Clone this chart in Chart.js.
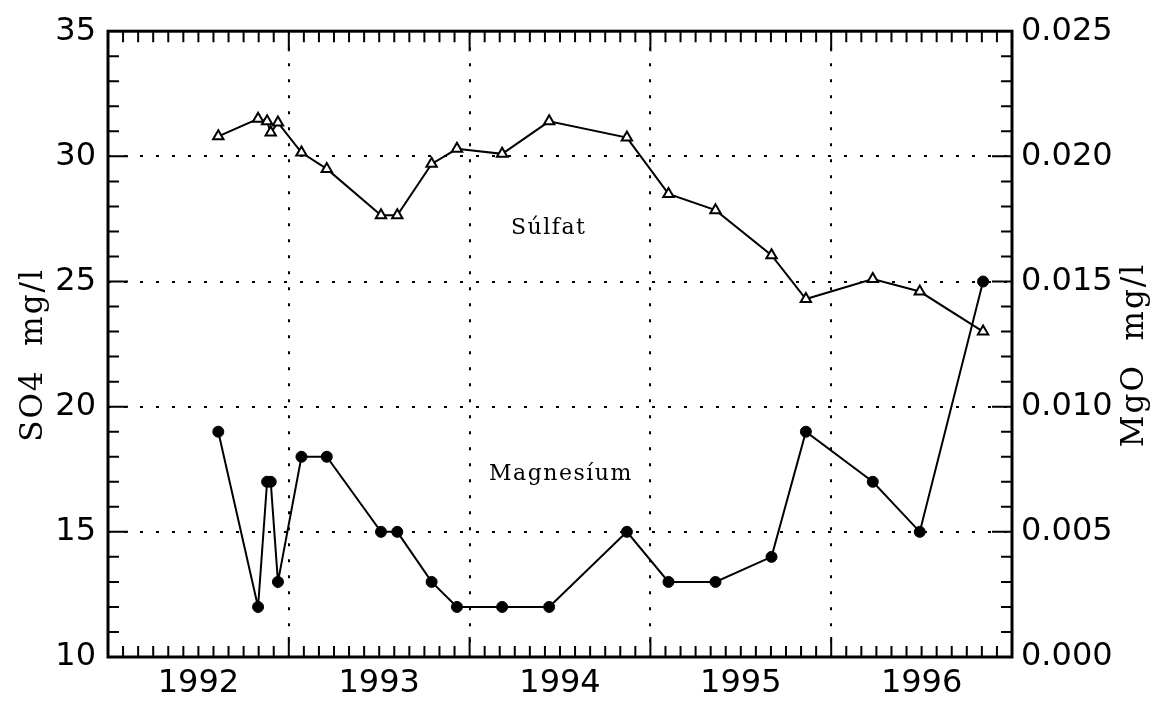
<!DOCTYPE html>
<html>
<head>
<meta charset="utf-8">
<script src="https://cdn.jsdelivr.net/npm/chart.js@4.4.0/dist/chart.umd.min.js"></script>
<style>
  html, body { margin: 0; padding: 0; background: #fff; }
  canvas { display: block; }
</style>
</head>
<body>
<canvas id="grafic" width="1166" height="703"></canvas>
<script>
// dates de mostreig en anys decimals
const dates = [1992.61, 1992.83, 1992.88, 1992.90, 1992.94, 1993.07, 1993.21, 1993.51, 1993.60, 1993.79, 1993.93,
               1994.18, 1994.44, 1994.87, 1995.10, 1995.36, 1995.67, 1995.86, 1996.23, 1996.49, 1996.84];
// SO4 mg/l
const sulfat = [30.8, 31.5, 31.4, 30.95, 31.35, 30.15, 29.5, 27.65, 27.65, 29.7, 30.3,
                30.1, 31.4, 30.75, 28.5, 27.85, 26.05, 24.3, 25.1, 24.6, 23.0];
// MgO mg/l
const magnesi = [0.009, 0.002, 0.007, 0.007, 0.003, 0.008, 0.008, 0.005, 0.005, 0.003, 0.002,
                 0.002, 0.002, 0.005, 0.003, 0.003, 0.004, 0.009, 0.007, 0.005, 0.015];

const anys = [1992, 1993, 1994, 1995, 1996, 1997];
const ticsSO4 = [10, 15, 20, 25, 30, 35];
const ticsMgO = [0, 0.005, 0.010, 0.015, 0.020, 0.025];

Chart.defaults.font.family = 'DejaVu Sans';
Chart.defaults.color = '#000';

// marc, marques petites i textos
const marc = {
    id: 'marc',
    beforeDatasetsDraw(chart) {
        const { ctx, chartArea: a, scales } = chart;
        ctx.save();
        ctx.strokeStyle = '#000';
        ctx.lineWidth = 2;
        ctx.beginPath();
        // un tic per mes
        for (let i = 1; i < 60; i++) {
            const px = scales.x.getPixelForValue(anys[0] + i / 12);
            const l = i % 12 === 0 ? 20 : 11;
            ctx.moveTo(px, a.bottom); ctx.lineTo(px, a.bottom - l);
            ctx.moveTo(px, a.top); ctx.lineTo(px, a.top + l);
        }
        // un tic per unitat de SO4
        for (let v = 11; v < 35; v++) {
            const py = scales.y.getPixelForValue(v);
            const l = v % 5 === 0 ? 20 : 11;
            ctx.moveTo(a.left, py); ctx.lineTo(a.left + l, py);
            ctx.moveTo(a.right, py); ctx.lineTo(a.right - l, py);
        }
        ctx.stroke();
        ctx.lineWidth = 3;
        ctx.strokeRect(a.left, a.top, a.right - a.left, a.bottom - a.top);

        ctx.fillStyle = '#000';
        ctx.font = '22px "DejaVu Serif"';
        ctx.letterSpacing = '1.5px';
        ctx.textAlign = 'left';
        ctx.textBaseline = 'alphabetic';
        ctx.fillText('Súlfat', 511, 234);
        ctx.fillText('Magnesíum', 489, 480);

        ctx.font = '31px "DejaVu Serif"';
        ctx.letterSpacing = '2px';
        ctx.textAlign = 'center';
        ctx.textBaseline = 'middle';
        ctx.translate(34, 355);
        ctx.rotate(-Math.PI / 2);
        ctx.fillText('SO4  mg/l', 0, 0);
        ctx.rotate(Math.PI / 2);
        ctx.translate(1101, 0);
        ctx.rotate(-Math.PI / 2);
        ctx.fillText('MgO  mg/l', 0, 0);
        ctx.restore();
    }
};

const vora = (ctx) => (ctx.tick && (ctx.tick.value === 10 || ctx.tick.value === 35 ||
                                     ctx.tick.value === 1992 || ctx.tick.value === 1997)) ? 'rgba(0,0,0,0)' : '#000';

new Chart(document.getElementById('grafic'), {
    type: 'line',
    data: {
        datasets: [
            {
                label: 'Súlfat',
                data: dates.map((d, i) => ({ x: d, y: sulfat[i] })),
                yAxisID: 'y',
                borderColor: '#000',
                borderWidth: 2,
                tension: 0,
                pointStyle: 'triangle',
                pointRadius: 6,
                pointBorderWidth: 2,
                pointBackgroundColor: '#fff',
                pointBorderColor: '#000'
            },
            {
                label: 'Magnesíum',
                data: dates.map((d, i) => ({ x: d, y: magnesi[i] })),
                yAxisID: 'y2',
                borderColor: '#000',
                borderWidth: 2,
                tension: 0,
                pointStyle: 'circle',
                pointRadius: 5.5,
                pointBorderWidth: 1,
                pointBackgroundColor: '#000',
                pointBorderColor: '#000'
            }
        ]
    },
    options: {
        responsive: false,
        animation: false,
        layout: { padding: { top: 28, left: 0, right: 0, bottom: 0 } },
        plugins: { legend: { display: false }, tooltip: { enabled: false } },
        scales: {
            x: {
                type: 'linear',
                min: anys[0],
                max: anys[anys.length - 1],
                afterBuildTicks: (s) => { s.ticks = anys.map(v => ({ value: v })); },
                afterFit: (s) => { s.height = 46; },
                grid: { color: vora, lineWidth: 2, drawTicks: false },
                border: { display: false, dash: [3, 13] },
                ticks: {
                    font: { size: 32 },
                    padding: 7,
                    labelOffset: 90.4,
                    maxRotation: 0,
                    autoSkip: false,
                    callback: (v) => v < anys[anys.length - 1] ? String(v) : ''
                }
            },
            y: {
                position: 'left',
                min: ticsSO4[0],
                max: ticsSO4[ticsSO4.length - 1],
                afterBuildTicks: (s) => { s.ticks = ticsSO4.map(v => ({ value: v })); },
                afterFit: (s) => { s.width = 108; },
                grid: { color: vora, lineWidth: 2, drawTicks: false },
                border: { display: false, dash: [3, 13] },
                ticks: { font: { size: 32 }, padding: 12 }
            },
            y2: {
                position: 'right',
                min: ticsMgO[0],
                max: ticsMgO[ticsMgO.length - 1],
                afterBuildTicks: (s) => { s.ticks = ticsMgO.map(v => ({ value: v })); },
                afterFit: (s) => { s.width = 154; },
                grid: { display: false, drawTicks: false },
                border: { display: false },
                ticks: { font: { size: 32 }, padding: 9, callback: (v) => v.toFixed(3) }
            }
        }
    },
    plugins: [marc]
});
</script>
</body>
</html>
